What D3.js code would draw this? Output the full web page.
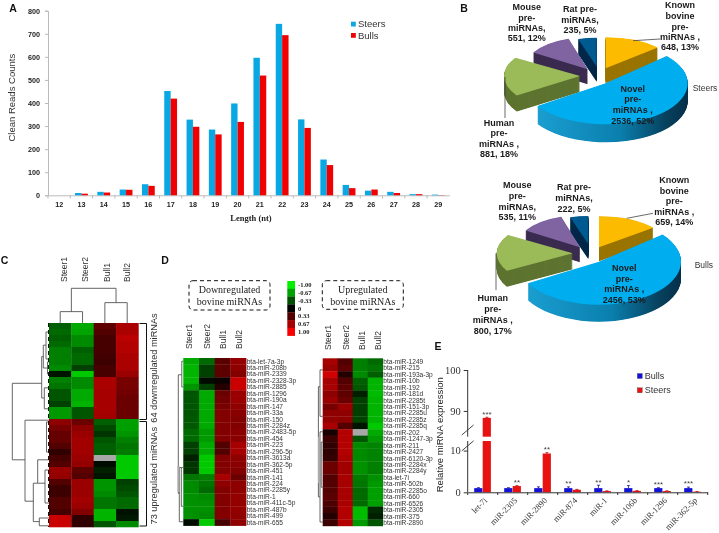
<!DOCTYPE html>
<html><head><meta charset="utf-8">
<script src="https://cdn.jsdelivr.net/npm/d3@7"></script>
<style>html,body{margin:0;background:#fff}svg{display:block;filter:blur(.3px)}</style></head>
<body><svg id="c" width="719" height="533"></svg>
<script>
// ---------- DATA ----------
const lengths=[12,13,14,15,16,17,18,19,20,21,22,23,24,25,26,27,28,29];
const steersReads=[0,10,15,25,48,452,328,285,398,596,743,329,155,45,20,15,5,3];
const bullsReads=[0,7,12,24,41,419,297,264,318,519,694,292,131,31,25,10,5,1];
const readTicks=[0,100,200,300,400,500,600,700,800];

const pieNames=["Known","Novel","Human","Mouse","Rat"];
const steersPie=[648,2536,881,551,235];
const bullsPie=[659,2456,800,535,222];

const sampleNames=["Steer1","Steer2","Bull1","Bull2"];
const heatC=[
[-.45,-.8,.4,.72],[-.5,-.78,.35,.72],[-.45,-.65,.3,.78],[-.5,-.65,.3,.75],[-.6,-.45,.3,.75],[-.6,-.5,.28,.72],[-.6,-.5,.25,.72],[-.65,-.3,.3,.72],
[-.1,-.95,.3,.65],[-.6,-.65,.72,.5],[-.55,-.65,.72,.5],[-.4,-.8,.7,.48],[-.4,-.8,.7,.45],[-.3,-.85,.7,.45],[-.72,-.4,.7,.45],[-.72,-.4,.68,.45],
[.6,.45,-.45,-.75],[.5,.6,-.35,-.75],[.42,.65,-.25,-.7],[.42,.68,-.4,-.6],[.35,.68,-.45,-.55],[.2,.68,-.45,-.58],[.3,.65,null,-.95],[.35,.62,-.05,-.95],
[.65,.4,-.15,-.95],[.62,.35,-.1,-.95],[.35,.65,-.7,-.3],[.25,.65,-.7,-.35],[.25,.65,-.65,-.4],[.35,.68,-.55,-.5],[.35,.65,-.55,-.5],[.3,.55,-.85,-.08],
[.85,.2,-.85,-.12],[.85,.2,-.4,-.65]];
const downNames=["bta-let-7a-3p","bta-miR-208b","bta-miR-2339","bta-miR-2328-3p","bta-miR-2885","bta-miR-1296","bta-miR-190a","bta-miR-147","bta-miR-33a","bta-miR-150","bta-miR-2284z","bta-miR-2483-5p","bta-miR-454","bta-miR-223","bta-miR-296-5p","bta-miR-3613a","bta-miR-362-5p","bta-miR-451","bta-miR-141","bta-miR-224","bta-miR-2285y","bta-miR-1","bta-miR-411c-5p","bta-miR-487b","bta-miR-499","bta-miR-655"];
const downHeat=[[-.8,-.5,.38,.62],[-.85,-.3,.4,.6],[-.85,-.3,.4,.55],[-.85,-.05,.05,.85],[-.7,-.3,.15,.85],[-.4,-.8,.45,.65],[-.4,-.8,.48,.65],[-.4,-.8,.5,.6],[-.4,-.8,.55,.58],[-.42,-.8,.55,.55],[-.42,-.8,.55,.55],[-.5,-.72,.55,.58],[-.5,-.72,.55,.58],[-.3,-.8,.35,.7],[-.3,-.8,.35,.7],[-.15,-.95,.55,.6],[-.25,-.95,.55,.58],[-.25,-.95,.55,.55],[-.55,-.6,.7,.45],[-.65,-.55,.6,.6],[-.65,-.5,.55,.6],[-.68,-.65,.55,.62],[-.68,-.68,.55,.62],[-.68,-.68,.55,.62],[-.68,-.65,.55,.6],[-.05,-.95,.3,.6]];
const upNames=["bta-miR-1249","bta-miR-215","bta-miR-193a-3p","bta-miR-10b","bta-miR-192","bta-miR-181d","bta-miR-2285t","bta-miR-151-3p","bta-miR-2285u","bta-miR-2285z","bta-miR-2285q","bta-miR-202","bta-miR-1247-3p","bta-miR-211","bta-miR-2427","bta-miR-6120-3p","bta-miR-2284x","bta-miR-2284y","bta-let-7i","bta-miR-502b","bta-miR-2285o","bta-miR-660","bta-miR-6526","bta-miR-2305","bta-miR-375","bta-miR-2890"];
const upHeat=[[.7,.35,-.6,-.5],[.65,.4,-.6,-.55],[.88,.15,-.65,-.45],[.7,.35,-.45,-.85],[.7,.4,-.42,-.85],[.6,.4,-.15,-.88],[.65,.45,-.3,-.85],[.5,.65,-.3,-.85],[.6,.6,-.3,-.85],[.62,.6,-.32,-.85],[.72,.35,-.1,-.95],[.1,.75,null,-.8],[.25,.75,-.4,-.72],[.2,.75,-.65,-.62],[.2,.75,-.65,-.62],[.22,.72,-.65,-.62],[.45,.68,-.68,-.6],[.45,.68,-.68,-.6],[.35,.7,-.58,-.68],[.35,.7,-.55,-.72],[.35,.7,-.5,-.75],[.38,.7,-.5,-.75],[.32,.72,-.5,-.75],[.25,.75,-.88,-.2],[.15,.75,-.88,-.15],[.25,.75,-.72,-.4]];
const legendValues=[-1,-.67,-.33,0,.33,.67,1];
const legendLabels=["-1.00","-0.67","-0.33","0","0.33","0.67","1.00"];

// dendrogram brackets: [height, row1, childHeight1, row2, childHeight2]
const dendroC=[[36.7,10.05,7.3,22.8,24],[7.3,5.6,5.7,12.5,4.7],[5.7,3.7,3,7.5,1.5],[3,1.5,0,6,0],[1.5,6.5,0,8.5,0],[4.7,10.8,0,14.3,0],
[24,16.2,0,29.7,15.7],[15.7,26.7,11.3,33.1,9.7],[11.3,22.8,0,26.7,4],[4,24.5,0,30,0],[9.7,32.5,0,33.8,0],[2.5,16.5,0,21.5,0]];
const dendroColTop=[[105,.5,35,2.5,62],[35,0,0,1,0],[62,2,0,3,0]];
const dendroDown=[[5,2.6,1.5,21,4],[1.5,.5,0,4.5,0],[4,17,2,25.4,0],[2,17,0,23,0]];
const dendroUp=[[4.3,4.4,2.7,21.5,2.7],[2.7,1.8,0,9,0],[2.7,11.4,0,25.4,0],[1.5,13,0,20,0]];

const miRNAs=["let-7i","miR-2305","miR-2890","miR-874","miR-1","miR-106b","miR-1296","miR-362-5p"];
const exprBulls=[1,1,1,1,1,1,1,1];
const exprSteers=[88.3,1.5,9.3,.6,.3,.35,.3,.15];
const errBulls=[.1,.1,.3,.3,.7,.6,.1,.25];
const errSteers=[.15,.1,.2,.1,.05,.05,.05,.03];
const stars=["***","**","**","**","**","*","***","***"];
const starSeries=["Steers","Steers","Steers","Bulls","Bulls","Bulls","Bulls","Bulls"];
const exprTicks=[0,10,90,100];

// ---------- LAYOUT / HELPERS ----------
const svg=d3.select("#c");
const SANS="'Liberation Sans',Arial,sans-serif", SERIF="'Liberation Serif','Times New Roman',serif";
function txt(g,x,y,s,o={}){
  const t=g.append("text").attr("x",x).attr("y",y).attr("dy",".35em").text(s)
   .attr("font-family",o.f||SANS).attr("font-size",o.s||9).attr("fill",o.c||"#222")
   .attr("text-anchor",o.a||"middle");
  if(o.b)t.attr("font-weight","bold");
  if(o.r!==undefined)t.attr("transform",`rotate(${o.r} ${x} ${y})`);
  return t;
}
[["A",13,8],["B",464,8],["C",4.5,260],["D",165,260],["E",438,346]].forEach(l=>txt(svg,l[1],l[2],l[0],{b:1,s:10.5,c:"#111"}));

// ---------- PANEL A ----------
(function(){
 const g=svg.append("g");
 const x=d3.scaleBand().domain(lengths).range([48,449.4]);
 const y=d3.scaleLinear().domain([0,800]).range([195.3,10.7]);
 const sub=d3.scaleBand().domain(["Steers","Bulls"]).range([-6.4,6.4]);
 const col={Steers:"#0aa8e2",Bulls:"#f00000"};
 const ya=g.append("g").attr("transform","translate(48,0)").call(d3.axisLeft(y).tickValues(readTicks).tickSize(3));
 ya.selectAll("path,line").attr("stroke","#bbb");
 ya.selectAll("text").attr("font-family",SANS).attr("font-weight","bold").attr("font-size",7.2).attr("fill","#222").attr("dx","-2");
 const xa=g.append("g").attr("transform","translate(0,195.3)").call(d3.axisBottom(x).tickSize(0).tickPadding(7));
 xa.selectAll("path").attr("stroke","#bbb");
 xa.selectAll("text").attr("font-family",SANS).attr("font-weight","bold").attr("font-size",7.2).attr("fill","#222");
 g.selectAll(".xt").data(lengths).join("line").attr("x1",d=>x(d)).attr("x2",d=>x(d)).attr("y1",195.3).attr("y2",198.5).attr("stroke","#bbb");
 [["Steers",steersReads],["Bulls",bullsReads]].forEach(([k,v])=>{
  g.selectAll(".b"+k).data(lengths).join("rect")
   .attr("x",d=>x(d)+x.bandwidth()/2+sub(k)).attr("width",sub.bandwidth())
   .attr("y",(d,i)=>y(v[i])).attr("height",(d,i)=>y(0)-y(v[i])).attr("fill",col[k]);
 });
 ["Steers","Bulls"].forEach((k,i)=>{
  g.append("rect").attr("x",351).attr("y",21.7+i*11.3).attr("width",4.8).attr("height",4.8).attr("fill",col[k]);
  txt(g,358,24+i*11.3,k,{a:"start",s:9.5,c:"#333"});
 });
 txt(g,12,97.7,"Clean Reads Counts",{r:-90,s:9.5,c:"#333"});
 txt(g,251,218,"Length (nt)",{f:SERIF,b:1,s:8.5});
})();

// ---------- PANEL B ----------
const pieColors={Known:["#fdbb00","#9a7400"],Novel:["#00aeef","url(#novelSide)"],Human:["#9bbb59","#5e7431"],Mouse:["#8064a2","#3b2c50"],Rat:["#005a92","#04294a"]};
const defs=svg.append("defs");
const grad=defs.append("linearGradient").attr("id","novelSide");
[[0,"#1a9ed0"],[.55,"#0a7fae"],[.85,"#07425f"],[1,"#062f49"]].forEach(s=>grad.append("stop").attr("offset",s[0]).attr("stop-color",s[1]));
function drawPie(values,geom,order){
 const g=svg.append("g");
 const arcs=d3.pie().sort(null).startAngle(0).endAngle(2*Math.PI)(values);
 const arc=d3.arc().innerRadius(0).outerRadius(1);
 order.forEach(name=>{
  const i=pieNames.indexOf(name),a=arcs[i],p=geom[name],c=pieColors[name];
  for(let d=p[4];d>0;d-=.5)
   g.append("path").attr("d",arc(a)).attr("fill",c[1])
    .attr("transform",`translate(${p[0]},${p[1]+d}) scale(${p[2]},${p[3]})`);
  g.append("path").attr("d",arc(a)).attr("fill",c[0])
    .attr("transform",`translate(${p[0]},${p[1]}) scale(${p[2]},${p[3]})`);
 });
 return g;
}
function lines(g,x,ys,strs){strs.forEach((s,i)=>txt(g,x,ys[i],s,{b:1,s:9,c:"#1a1a1a"}));}
// [apexX, apexY, rx, ry, depth]
const order=["Rat","Mouse","Known","Human","Novel"];
const gS=drawPie(steersPie,{Known:[605.7,68.3,70,31,15],Novel:[605.7,83.3,82,41,18],Human:[580,76,76,35,16],Mouse:[587.7,69.3,64,32,15],Rat:[596.7,66.7,62,29,15]},order);
const gB=drawPie(bullsPie,{Known:[599,247.3,70,31,14],Novel:[599,261.7,82,43,17],Human:[572.7,253.3,76,35,16],Mouse:[580,247.3,64,32,15],Rat:[588.3,244,62,28,15]},order);
function leader(g,a,b,c,d){g.append("line").attr("x1",a).attr("y1",b).attr("x2",c).attr("y2",d).attr("stroke","#444").attr("stroke-width",.8);}
leader(gS,633,40.7,660,39);leader(gS,505,76.7,505,118);
leader(gB,626.7,218.3,653,213.3);leader(gB,496,253.3,496,290);
lines(gS,680,[5,15.7,26.7,37.3,47.3],["Known","bovine","pre-","miRNAs ,","648, 13%"]);
lines(gS,526.7,[6.7,17.7,28.3,38.3],["Mouse","pre-","miRNAs,","551, 12%"]);
lines(gS,580,[9.3,20,30],["Rat pre-","miRNAs,","235, 5%"]);
lines(gS,632.7,[89,99.3,110,120.7],["Novel","pre-","miRNAs ,","2536, 52%"]);
lines(gS,499,[122.7,133.3,144,154.3],["Human","pre-","miRNAs ,","881, 18%"]);
txt(gS,692.7,87.7,"Steers",{a:"start",s:8.5,c:"#333"});
lines(gB,674.3,[180,190.7,201,211.7,222.3],["Known","bovine","pre-","miRNAs ,","659, 14%"]);
lines(gB,517.3,[185,196,206.7,216.7],["Mouse","pre-","miRNAs,","535, 11%"]);
lines(gB,574,[187.3,198.3,209],["Rat pre-","miRNAs,","222, 5%"]);
lines(gB,624.3,[268.3,279,289.3,300],["Novel","pre-","miRNAs ,","2456, 53%"]);
lines(gB,492.7,[298.3,309.3,320,330.7],["Human","pre-","miRNAs ,","800, 17%"]);
txt(gB,694.7,265,"Bulls",{a:"start",s:8.5,c:"#333"});

// ---------- HEATMAPS ----------
const color=d3.scaleLinear().domain([-1,0,1]).range(["#00d400","#000000","#ee0000"]);
function heat(g,rows,x0,y0,w,h){
 const x=d3.scaleBand().domain(sampleNames).range([x0,x0+w*4]);
 const y=d3.scaleBand().domain(d3.range(rows.length)).range([y0,y0+h*rows.length]);
 rows.forEach((r,i)=>g.selectAll(null).data(r).join("rect")
  .attr("x",(d,j)=>x(sampleNames[j])).attr("y",y(i)).attr("width",x.bandwidth()+.3).attr("height",y.bandwidth()+.3)
  .attr("fill",d=>d===null?"#a8a8a8":color(d)));
 return {x,y};
}
function dendroLeft(g,data,x0,y0,rowH,w){
 const hx=d3.scaleLinear().domain([0,40]).range([x0,x0-40]);
 const ry=d3.scaleLinear().domain([0,1]).range([y0,y0+rowH]);
 g.selectAll(null).data(data).join("path").attr("fill","none").attr("stroke","#555").attr("stroke-width",w||.9)
  .attr("d",d=>`M${hx(d[2])},${ry(d[1])}H${hx(d[0])}V${ry(d[3])}H${hx(d[4])}`);
}
function sampleLabels(g,xs,y){sampleNames.forEach((s,i)=>txt(g,xs[i],y,s,{a:"start",s:8.5,r:-90,c:"#333"}));}

// C
(function(){
 const g=svg.append("g");
 heat(g,heatC,49,323,22.35,6);
 dendroLeft(g,dendroC,49,323,6);
 g.append("line").attr("x1",48.5).attr("x2",48.5).attr("y1",323).attr("y2",527).attr("stroke","#111").attr("stroke-dasharray","4,3");
 const cx=d3.scaleLinear().domain([0,3]).range([60.2,127.2]);
 const hy=d3.scaleLinear().domain([0,105]).range([323.3,288.3]);
 g.selectAll(null).data(dendroColTop).join("path").attr("fill","none").attr("stroke","#555").attr("stroke-width",.9)
  .attr("d",d=>`M${cx(d[1])},${hy(d[2])}V${hy(d[0])}H${cx(d[3])}V${hy(d[4])}`);
 sampleLabels(g,[64,84.7,107,126.7],282);
 g.append("path").attr("fill","none").attr("stroke","#111").attr("d","M139.5,323.5H146.5V419.5H139.5M139.5,421.5H146.5V526H139.5");
 txt(g,154,368,"64 downregulated miRNAs",{r:-90,s:9.2,c:"#333"});
 txt(g,154,475.7,"73 upregulated miRNAs",{r:-90,s:9.2,c:"#333"});
})();

// D
function dBox(g,x,y,w,h,t1,t2){
 g.append("rect").attr("x",x).attr("y",y).attr("width",w).attr("height",h).attr("rx",4).attr("fill","none").attr("stroke","#111").attr("stroke-dasharray","4,3");
 txt(g,x+w/2,y+9,t1,{f:SERIF,s:10,c:"#222"});txt(g,x+w/2,y+21,t2,{f:SERIF,s:10,c:"#222"});
}
(function(){
 const g=svg.append("g");
 const rh=167.6/26;
 heat(g,downHeat,183.3,358,15.7,rh);
 dendroLeft(g,dendroDown,183.3,358,rh);
 g.append("line").attr("x1",178.5).attr("x2",178.5).attr("y1",466).attr("y2",492).attr("stroke","#aaa").attr("stroke-width",2);
 downNames.forEach((s,i)=>txt(g,246.7,358+rh*(i+.5),s,{a:"start",s:6.6,c:"#333"}));
 sampleLabels(g,[189,206.7,222.7,239],349);
 dBox(g,189,280.7,81,29.3,"Downregulated","bovine miRNAs");

 heat(g,upHeat,322.7,358.3,15,rh);
 dendroLeft(g,dendroUp,322.7,358.3,rh);
 g.append("line").attr("x1",319).attr("x2",319).attr("y1",437).attr("y2",483).attr("stroke","#aaa").attr("stroke-width",2);
 upNames.forEach((s,i)=>txt(g,383.3,358.3+rh*(i+.5),s,{a:"start",s:6.6,c:"#333"}));
 sampleLabels(g,[328.3,345.7,362.3,378.3],350);
 dBox(g,322.3,280.7,81,28.6,"Upregulated","bovine miRNAs");

 const by=d3.scaleBand().domain(legendValues).range([281,335.7]);
 const barColor=d3.scaleLinear().domain([-1,0,1]).range(["#00f000","#000000","#f80000"]);
 g.selectAll(null).data(legendValues).join("rect").attr("x",287.3).attr("width",7.7).attr("y",d=>by(d)).attr("height",by.bandwidth()+.2).attr("fill",d=>barColor(d));
 legendValues.forEach((v,i)=>txt(g,298,by(v)+by.bandwidth()/2,legendLabels[i],{a:"start",f:SERIF,b:1,s:6.5,c:"#222"}));
})();

// ---------- PANEL E ----------
(function(){
 const g=svg.append("g");
 const breakLow=12.3,breakHigh=83.7;
 const y=d3.scaleLinear().domain([0,breakLow,breakHigh,100]).range([492.3,441,436.7,370]);
 const x=d3.scaleBand().domain(miRNAs).range([467.7,707.7]);
 const sub=d3.scaleBand().domain(["Bulls","Steers"]).range([-8.5,8.5]);
 const col={Bulls:"#1212d6",Steers:"#e81212"};
 const series=[["Bulls",exprBulls,errBulls],["Steers",exprSteers,errSteers]];
 series.forEach(([k,v,e])=>{
  g.selectAll(null).data(miRNAs).join("rect")
   .attr("x",d=>x(d)+x.bandwidth()/2+sub(k)).attr("width",sub.bandwidth()-.3)
   .attr("y",(d,i)=>y(v[i])).attr("height",(d,i)=>y(0)-y(v[i])).attr("fill",col[k]);
  g.selectAll(null).data(miRNAs).join("path").attr("fill","none").attr("stroke",k==="Bulls"?"#1212a0":"#a01010").attr("stroke-width",.8)
   .attr("d",(d,i)=>{const c=x(d)+x.bandwidth()/2+sub(k)+sub.bandwidth()/2;return `M${c},${y(v[i])}V${y(v[i]+e[i])}M${c-1.5},${y(v[i]+e[i])}H${c+1.5}`;});
 });
 g.append("rect").attr("x",462).attr("y",y(breakHigh)).attr("width",32).attr("height",y(breakLow)-y(breakHigh)).attr("fill","#fff");
 const ya=g.append("g").attr("transform","translate(467.7,0)").call(d3.axisLeft(y).tickValues(exprTicks).tickFormat(d3.format("d")).tickSize(4).tickSizeOuter(0));
 ya.select("path").remove();
 ya.selectAll("line").attr("stroke","#333");
 ya.selectAll("text").attr("font-family",SERIF).attr("font-size",10.5).attr("fill","#333");
 [[0,breakLow],[breakHigh,100]].forEach(s=>g.append("line").attr("x1",467.7).attr("x2",467.7).attr("y1",y(s[0])).attr("y2",y(s[1])).attr("stroke","#333"));
 [breakLow-1.4,breakHigh+1.4].forEach(v=>g.append("line").attr("x1",461.8).attr("x2",473.6).attr("y1",y(v)+4).attr("y2",y(v)-6).attr("stroke","#333").attr("stroke-width",.9));
 const xa=g.append("g").attr("transform","translate(0,492.3)").call(d3.axisBottom(x).tickSize(0).tickFormat(""));
 xa.select("path").attr("stroke","#333");
 g.selectAll(null).data(miRNAs.concat(["end"])).join("line")
  .attr("x1",(d,i)=>467.7+x.step()*i).attr("x2",(d,i)=>467.7+x.step()*i).attr("y1",492.3).attr("y2",495).attr("stroke","#333");
 miRNAs.forEach(m=>{
  const px=x(m)+x.bandwidth()/2+3,py=499;
  txt(g,px,py,m,{a:"end",f:SERIF,s:8.5,c:"#333",r:-45});
 });
 miRNAs.forEach((m,i)=>{
  const k=starSeries[i],s=series.find(q=>q[0]===k);
  const cx=x(m)+x.bandwidth()/2+sub(k)+sub.bandwidth()/2;
  txt(g,cx,y(s[1][i]+s[2][i])-3.5,stars[i],{s:8,c:"#444"});
 });
 ["Bulls","Steers"].forEach((k,i)=>{
  g.append("rect").attr("x",637.3).attr("y",373.5+i*14.3).attr("width",5).attr("height",5).attr("fill",col[k]).attr("stroke","#444").attr("stroke-width",.3);
  txt(g,644.8,375.8+i*14.3,k,{a:"start",s:9,c:"#333"});
 });
 txt(g,440,434.7,"Relative miRNA expression",{r:-90,s:9.5,c:"#222"});
})();
</script></body></html>
